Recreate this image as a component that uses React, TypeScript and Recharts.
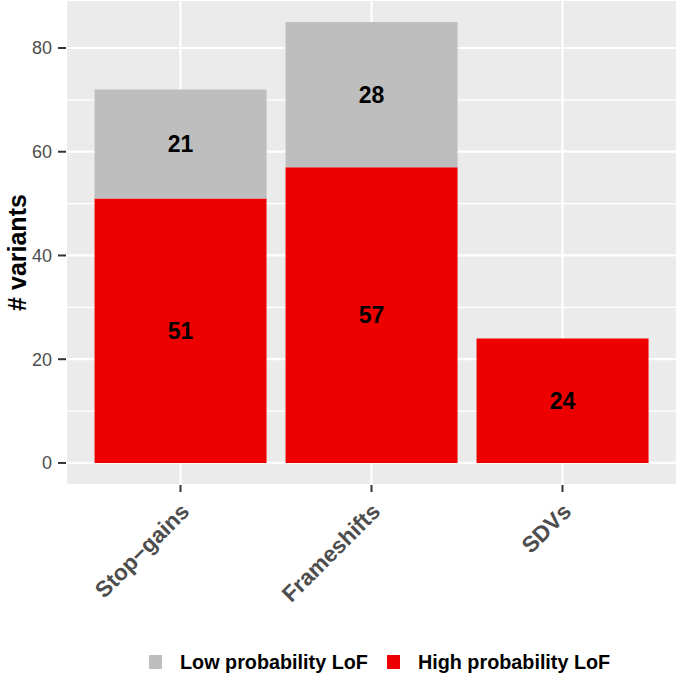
import React from "react";
import {
  BarChart,
  Bar,
  XAxis,
  YAxis,
  CartesianGrid,
  LabelList,
} from "recharts";

const categories = ["Stop\u2212gains", "Frameshifts", "SDVs"];
const highProb = [51, 57, 24];
const lowProb = [21, 28, 0];
const yTicks = [0, 20, 40, 60, 80];
const minorTicks = [10, 30, 50, 70];
const seriesNames = ["High probability LoF", "Low probability LoF"];

const FONT = '"Liberation Sans", Arial, Helvetica, sans-serif';
const RED = "#EE0000";
const GREY = "#BEBEBE";

const data = categories.map((name, i) => ({
  name,
  high: highProb[i],
  low: lowProb[i],
}));

const XTick = (props: any) => {
  const { x, y, payload } = props;
  return (
    <g transform={`translate(${x + 10},${y + 21}) rotate(-45)`}>
      <text
        x={0}
        y={0}
        textAnchor="end"
        fill="#4D4D4D"
        fontSize={22.5}
        fontWeight="bold"
        fontFamily={FONT}
      >
        {payload.value}
      </text>
    </g>
  );
};

const YTitle = (props: any) => {
  const vb = props.viewBox;
  const cx = 17;
  const cy = vb.y + vb.height / 2 + 10;
  return (
    <text
      x={cx}
      y={cy}
      transform={`rotate(-90, ${cx}, ${cy})`}
      textAnchor="middle"
      dominantBaseline="central"
      fontSize={25}
      fontWeight="bold"
      fontFamily={FONT}
      fill="#000"
    >
      # variants
    </text>
  );
};

// legend drawn as plain html under the chart (recharts Legend eats plot height)
const LegendBox = () => {
  const items = [
    { label: seriesNames[1], color: GREY },
    { label: seriesNames[0], color: RED },
  ];
  return (
    <div
      style={{
        position: "absolute",
        left: 149,
        top: 650,
        display: "flex",
        alignItems: "center",
        fontFamily: FONT,
        fontWeight: "bold",
        fontSize: 19.8,
        lineHeight: "24px",
        color: "#000",
      }}
    >
      {items.map((it) => (
        <div key={it.label} style={{ display: "flex", alignItems: "center", marginRight: 19 }}>
          <span
            style={{
              display: "inline-block",
              width: 13,
              height: 14,
              background: it.color,
              marginRight: 18,
            }}
          />
          <span>{it.label}</span>
        </div>
      ))}
    </div>
  );
};

const hideZero = (v: any) => (v ? v : "");

export default function App() {
  return (
    <div style={{ position: "absolute", left: 0, top: 0, width: 677, height: 677, background: "#fff" }}>
      <BarChart
        width={677}
        height={677}
        data={data}
        margin={{ top: 0, right: 0, left: 0, bottom: 92 }}
        barCategoryGap="5%"
      >
        <CartesianGrid
          fill="#EBEBEB"
          stroke="#FFFFFF"
          strokeWidth={1.1}
          vertical={false}
          horizontalValues={minorTicks}
        />
        <CartesianGrid stroke="#FFFFFF" strokeWidth={2.2} />
        <XAxis
          dataKey="name"
          height={100}
          padding={{ left: 19, right: 19 }}
          axisLine={false}
          tickLine={{ stroke: "#333333", strokeWidth: 2 }}
          tickSize={7}
          tickMargin={0}
          tick={<XTick />}
          interval={0}
        />
        <YAxis
          type="number"
          width={66}
          domain={[-4.25, 89.25]}
          ticks={yTicks}
          interval={0}
          axisLine={false}
          tickLine={{ stroke: "#333333", strokeWidth: 2 }}
          tickSize={8}
          tickMargin={6}
          tick={{ fill: "#4D4D4D", fontSize: 18, fontFamily: FONT }}
          label={<YTitle />}
        />
        <Bar dataKey="high" name={seriesNames[0]} stackId="a" fill={RED} isAnimationActive={false}>
          <LabelList
            dataKey="high"
            position="center"
            fill="#000"
            fontSize={23}
            fontWeight="bold"
            fontFamily={FONT}
          />
        </Bar>
        <Bar dataKey="low" name={seriesNames[1]} stackId="a" fill={GREY} isAnimationActive={false}>
          <LabelList
            dataKey="low"
            position="center"
            formatter={hideZero}
            fill="#000"
            fontSize={23}
            fontWeight="bold"
            fontFamily={FONT}
          />
        </Bar>
      </BarChart>
      <LegendBox />
    </div>
  );
}
